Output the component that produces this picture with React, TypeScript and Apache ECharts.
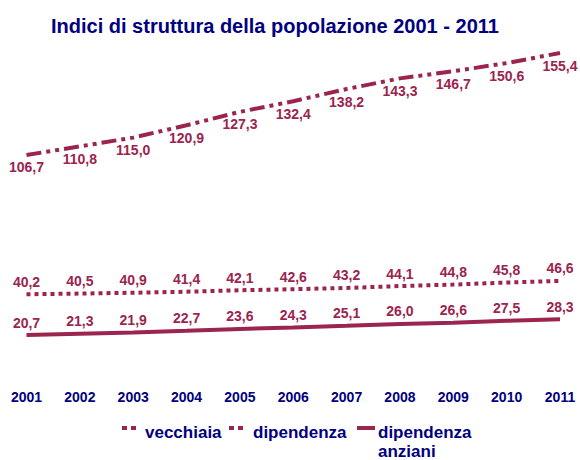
import React, { useEffect, useRef } from "react";
import * as echarts from "echarts";

const years = ["2001", "2002", "2003", "2004", "2005", "2006", "2007", "2008", "2009", "2010", "2011"];
const vecchiaia = [106.7, 110.8, 115.0, 120.9, 127.3, 132.4, 138.2, 143.3, 146.7, 150.6, 155.4];
const dipendenza = [40.2, 40.5, 40.9, 41.4, 42.1, 42.6, 43.2, 44.1, 44.8, 45.8, 46.6];
const anziani = [20.7, 21.3, 21.9, 22.7, 23.6, 24.3, 25.1, 26.0, 26.6, 27.5, 28.3];
const seriesNames = ["vecchiaia", "dipendenza", "dipendenza anziani"];

const RED = "#9b2450";
const NAVY = "#000080";
const FONT = "'Liberation Sans', Arial, sans-serif";

const fmt = (p: any) => Number(p.value).toFixed(1).replace(".", ",");

export default function App() {
  const ref = useRef<HTMLDivElement>(null);
  useEffect(() => {
    const chart = echarts.init(ref.current!, undefined, { renderer: "svg" });
    const label = (position: string) => ({
      show: true,
      position,
      distance: 5,
      formatter: fmt,
      color: RED,
      opacity: 1,
      fontFamily: FONT,
      fontWeight: "bold",
      fontSize: 14,
    });
    const legendText = (x: number, y: number, text: string) => ({
      type: "text",
      x,
      y,
      style: {
        text,
        fill: NAVY,
        font: `bold 17px ${FONT}`,
        verticalAlign: "middle",
        lineHeight: 19,
      },
    });
    chart.setOption({
      animation: false,
      title: {
        text: "Indici di struttura della popolazione 2001 - 2011",
        left: 46,
        top: 11,
        textStyle: { color: NAVY, fontFamily: FONT, fontWeight: "bold", fontSize: 20 },
      },
      grid: { left: 26.5, right: 20, top: 43.4, bottom: 81.6, containLabel: false },
      xAxis: {
        type: "category",
        data: years,
        boundaryGap: false,
        axisLine: { show: false },
        axisTick: { show: false },
        axisLabel: { color: NAVY, fontFamily: FONT, fontWeight: "bold", fontSize: 14, margin: 12 },
      },
      yAxis: { type: "value", min: 0, max: 160, show: false, splitLine: { show: false } },
      graphic: [
        { type: "rect", shape: { x: 122, y: 426, width: 5, height: 4 }, style: { fill: RED } },
        { type: "rect", shape: { x: 131, y: 426, width: 5, height: 4 }, style: { fill: RED } },
        legendText(145, 432, seriesNames[0]),
        { type: "rect", shape: { x: 229, y: 426, width: 5, height: 4 }, style: { fill: RED } },
        { type: "rect", shape: { x: 238, y: 426, width: 5, height: 4 }, style: { fill: RED } },
        legendText(253, 432, seriesNames[1]),
        { type: "rect", shape: { x: 357, y: 426, width: 18, height: 4 }, style: { fill: RED } },
        legendText(378, 432, "dipendenza"),
        legendText(378, 451, "anziani"),
      ],
      series: [
        {
          name: seriesNames[0],
          type: "line",
          data: vecchiaia,
          symbol: "circle",
          symbolSize: 1,
          showSymbol: true,
          lineStyle: { color: RED, width: 4, type: [15, 5, 4, 5, 4, 5], cap: "butt" },
          itemStyle: { color: RED, opacity: 0 },
          label: label("bottom"),
        },
        {
          name: seriesNames[1],
          type: "line",
          data: dipendenza,
          symbol: "circle",
          symbolSize: 1,
          showSymbol: true,
          lineStyle: { color: RED, width: 4, type: [4, 4], cap: "butt" },
          itemStyle: { color: RED, opacity: 0 },
          label: label("top"),
        },
        {
          name: seriesNames[2],
          type: "line",
          data: anziani,
          symbol: "circle",
          symbolSize: 1,
          showSymbol: true,
          lineStyle: { color: RED, width: 4, type: "solid" },
          itemStyle: { color: RED, opacity: 0 },
          label: label("top"),
        },
      ],
    });
    return () => chart.dispose();
  }, []);
  return <div ref={ref} style={{ position: "fixed", left: 0, top: 0, width: 580, height: 460, background: "#fff" }} />;
}
